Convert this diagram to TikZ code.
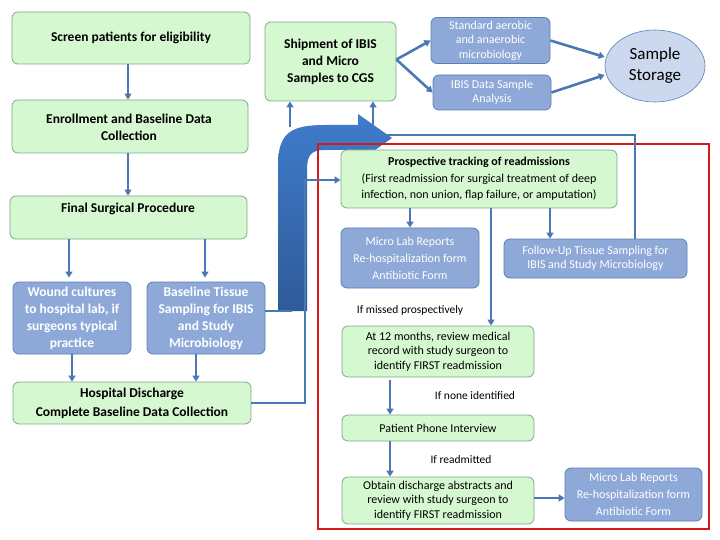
\documentclass[tikz,border=0pt]{standalone}
\usepackage{fontspec}
\setmainfont{Carlito}
\usetikzlibrary{shapes.geometric,arrows.meta,calc}
\definecolor{gfill}{HTML}{D6F8D0}
\definecolor{gdraw}{HTML}{7FA88A}
\definecolor{bfill}{HTML}{8EA9D8}
\definecolor{bdraw}{HTML}{5A7FB8}
\definecolor{arr}{HTML}{4A78B4}
\definecolor{redb}{HTML}{D81818}
\definecolor{shtop}{HTML}{3F7CCC}
\definecolor{shbot}{HTML}{2F5A98}
\begin{document}
\begin{tikzpicture}[x=1pt,y=-1pt,
  box/.style={draw=gdraw,fill=gfill,rounded corners=6pt,line width=0.8pt,align=center,font=\fontsize{12}{16.5}\selectfont},
  bbox/.style={draw=bdraw,fill=bfill,rounded corners=6pt,line width=0.8pt,align=center,text=white,font=\fontsize{12}{16.5}\selectfont},
  lb/.style={font=\fontsize{13.5}{17}\selectfont\bfseries},
  ar/.style={draw=arr,line width=2.6pt,-{Triangle[width=7pt,length=6pt]}},
  ln/.style={draw=arr,line width=2.6pt},
  lab/.style={font=\fontsize{11.5}{13}\selectfont}]
\useasboundingbox (0,0) rectangle (720,540);
% boxes
\node[box,minimum width=238,minimum height=52,lb] (screen) at (131,38) {Screen patients for eligibility};
\node[box,minimum width=236,minimum height=53] (enrol) at (130,126.5) {};
\node[lb,align=center] at (129,127) {Enrollment and Baseline Data\\Collection};
\node[box,minimum width=237,minimum height=43] (final) at (128.5,217.5) {};
\node[lb] at (128,209) {Final Surgical Procedure};
\node[bbox,minimum width=118,minimum height=72,lb] (wound) at (72,318) {Wound cultures\\to hospital lab, if\\surgeons typical\\practice};
\node[bbox,minimum width=118,minimum height=72,lb] (base) at (206,318) {Baseline Tissue\\Sampling for IBIS\\and Study\\Microbiology};
\node[box,minimum width=238,minimum height=42,lb,align=center,font=\fontsize{13.5}{19}\selectfont\bfseries] (hosp) at (132,403) {Hospital Discharge\\Complete Baseline Data Collection};
\node[box,minimum width=131,minimum height=79,lb,align=center] (ship) at (330.5,61.5) {Shipment of IBIS\\and Micro\\Samples to CGS};
\node[bbox,minimum width=119,minimum height=45,font=\fontsize{12}{14.5}\selectfont] (std) at (490.5,40.5) {Standard aerobic\\and anaerobic\\microbiology};
\node[bbox,minimum width=118,minimum height=35,font=\fontsize{12}{14.5}\selectfont] (ibis) at (492,92.5) {IBIS Data Sample\\Analysis};
\node[ellipse,draw=bdraw,fill=bfill!45,line width=0.6pt,minimum width=100,minimum height=72,align=center,font=\fontsize{17}{21}\selectfont] (stor) at (655,66) {Sample\\Storage};
% big arrow
\shade[top color=shtop,bottom color=shbot]
  (278,311) -- (278,165) .. controls (278,132) and (292,125) .. (325,125) -- (358,125) -- (358,114) -- (392,138) -- (358,162) -- (358,150) -- (325,150) .. controls (311,150) and (307,155) .. (307,170) -- (307,311) -- cycle;
\coordinate (jt) at (385,135);
\coordinate (t1) at (290,127);
\coordinate (t2) at (373,127);
\draw[ar] (t1) -- (ship.south -| t1);
\draw[ar] (t2) -- (ship.south -| t2);
% red frame
\draw[redb,line width=2.2pt] (318,144) rectangle (709,529);
% right boxes
\node[box,minimum width=276,minimum height=58] (pros) at (479,179) {\textbf{Prospective tracking of readmissions}\\(First readmission for surgical treatment of deep\\infection, non union, flap failure, or amputation)};
\node[bbox,minimum width=138,minimum height=60,font=\fontsize{12}{17}\selectfont] (ml1) at (410,258) {Micro Lab Reports\\Re-hospitalization form\\Antibiotic Form};
\node[bbox,minimum width=183,minimum height=39,font=\fontsize{12}{14.5}\selectfont] (fu) at (595.5,258.5) {Follow-Up Tissue Sampling for\\IBIS and Study Microbiology};
\node[box,minimum width=192,minimum height=51,font=\fontsize{12}{14.5}\selectfont] (m12) at (438,351.5) {At 12 months, review medical\\record with study surgeon to\\identify FIRST readmission};
\node[box,minimum width=192,minimum height=26] (phone) at (438,428) {Patient Phone Interview};
\node[box,minimum width=192,minimum height=47,font=\fontsize{12}{14.5}\selectfont] (obt) at (438,500.5) {Obtain discharge abstracts and\\review with study surgeon to\\identify FIRST readmission};
\node[bbox,minimum width=137,minimum height=53,font=\fontsize{12}{17}\selectfont] (ml2) at (633.5,494.5) {Micro Lab Reports\\Re-hospitalization form\\Antibiotic Form};
% labels
\node[lab] (l1) at (410,310) {If missed prospectively};
\node[lab] (l2) at (475,396) {If none identified};
\node[lab] (l3) at (461,460) {If readmitted};
% arrows left
\draw[ar] (screen.south -| 128,0) -- (enrol.north -| 128,0);
\draw[ar] (enrol.south -| 128,0) -- (final.north -| 128,0);
\draw[ar] (final.south -| 69,0) -- ($(wound.north -| 69,0)+(0,-4)$);
\draw[ar] (final.south -| 205,0) -- ($(base.north -| 205,0)+(0,-4)$);
\draw[ar] (wound.south -| 72,0) -- (hosp.north -| 72,0);
\draw[ar] (base.south -| 196,0) -- (hosp.north -| 196,0);
\draw[ln] (base.east |- 0,311) -- (292,311);
\draw[ar] (hosp.east) -- (305,403) -- (305,180) -- (pros.west |- 0,180);
% top arrows
\draw[ar] ($(ship.east)+(0,-2)$) -- (std.west);
\draw[ar] ($(ship.east)+(0,-2)$) -- (ibis.west);
\draw[ar] (std.east) -- (stor.west |- 0,57);
\draw[ar] (ibis.east) -- (stor.west |- 0,75);
% right arrows
\draw[ar] (pros.south -| 410,0) -- (ml1.north -| 410,0);
\draw[ar] (pros.south -| 550,0) -- (fu.north -| 550,0);
\draw[ln] (fu.north -| 635,0) -- (635,135) -- (jt);
\draw[ar] (pros.south -| 491,0) -- (m12.north -| 491,0);
\draw[ar] ($(m12.south -| 390,0)+(0,3)$) -- (phone.north -| 390,0);
\draw[ar] (phone.south -| 390,0) -- (obt.north -| 390,0);
\draw[ar] (obt.east |- 0,498) -- (ml2.west |- 0,498);
\end{tikzpicture}
\end{document}
